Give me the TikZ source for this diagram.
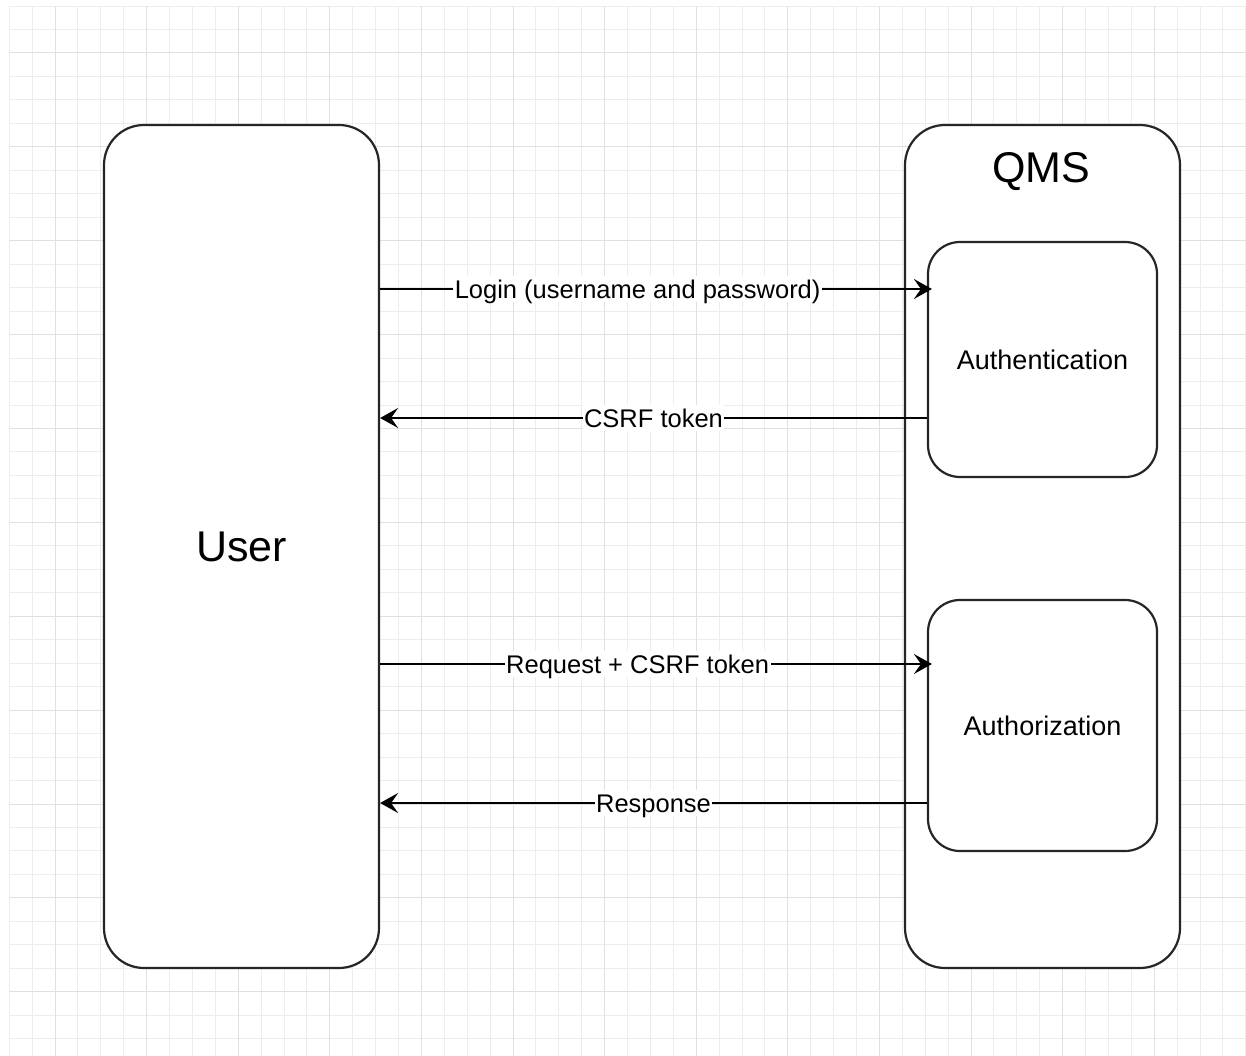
\documentclass[tikz,border=0pt]{standalone}
\usepackage{fontspec}
\setmainfont{Liberation Sans}
\usetikzlibrary{arrows.meta}

\definecolor{gridminor}{HTML}{EDEDED}
\definecolor{gridmajor}{HTML}{E0E0E0}
\definecolor{stroke}{HTML}{262626}

\tikzset{
  panel/.style={draw=stroke, line width=2.2pt, fill=white, rounded corners=40pt,
    minimum width=275pt, minimum height=843pt, inner sep=0pt},
  stage/.style={draw=stroke, line width=2.2pt, fill=white, rounded corners=32pt,
    minimum width=229pt, inner sep=0pt, font=\fontsize{27}{32}\selectfont},
  bigtext/.style={font=\fontsize{43}{50}\selectfont, inner sep=0pt},
  flow/.style={draw=black, line width=2pt,
    -{Stealth[length=18pt, width=20pt, inset=7pt]}},
  flowlabel/.style={fill=white, inner xsep=1.5pt, inner ysep=4pt,
    text height=18.4pt, text depth=0pt, font=\fontsize{25.5}{30}\selectfont},
}

\begin{document}
\begin{tikzpicture}[x=1pt, y=-1pt]
  % page area
  \useasboundingbox (0,0) rectangle (1246,1056);
  \fill[white] (0,0) rectangle (1246,1056);

  % background grid: thin minor lines, slightly darker every fourth line
  \foreach \k in {-2,...,52} {
    \draw[gridminor, line width=1pt] ({55+22.9*\k},6) -- ({55+22.9*\k},1056);
  }
  \foreach \k in {-2,...,42} {
    \draw[gridminor, line width=1pt] (9,{53+23.47*\k}) -- (1246,{53+23.47*\k});
  }
  \foreach \k in {0,4,...,48} {
    \draw[gridmajor, line width=1pt] ({55+22.9*\k},6) -- ({55+22.9*\k},1056);
  }
  \foreach \k in {0,4,...,40} {
    \draw[gridmajor, line width=1pt] (9,{53+23.47*\k}) -- (1246,{53+23.47*\k});
  }

  % client side
  \node[panel, bigtext] (user) at (241.5,546.5) {User};

  % server side with its two stages
  \node[panel] (qms) at (1042.5,546.5) {};
  \node[bigtext, anchor=base] (qmstitle) at (1041.5,183) {QMS};
  \node[stage, minimum height=235pt] (authn) at (1042.5,359.5) {Authentication};
  \node[stage, minimum height=251pt] (authz) at (1042.5,725.5) {Authorization};

  % message exchange
  \draw[flow, shorten >=-5pt] (user.east |- 0,289) --
    node[flowlabel, pos=0.471] (login) {Login (username and password)}
    (authn.west |- 0,289);
  \draw[flow] (authn.west |- 0,418) --
    node[flowlabel, pos=0.5] (token) {CSRF token}
    (user.east |- 0,418);
  \draw[flow, shorten >=-5pt] (user.east |- 0,664) --
    node[flowlabel, pos=0.471] (request) {Request + CSRF token}
    (authz.west |- 0,664);
  \draw[flow] (authz.west |- 0,803) --
    node[flowlabel, pos=0.5] (response) {Response}
    (user.east |- 0,803);
\end{tikzpicture}
\end{document}
